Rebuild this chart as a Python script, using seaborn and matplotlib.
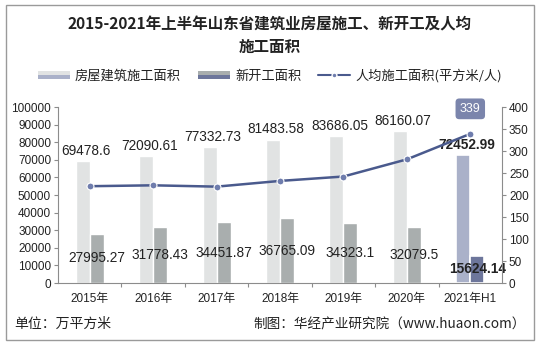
import matplotlib
matplotlib.use("Agg")
import matplotlib.pyplot as plt
import seaborn as sns
import pandas as pd
from matplotlib.patches import Rectangle
from matplotlib.lines import Line2D
from matplotlib.legend_handler import HandlerBase

sns.set_theme(style="white")
plt.rcParams['font.family'] = ['Liberation Sans', 'Noto Sans CJK SC', 'DejaVu Sans']

years = ["2015年", "2016年", "2017年", "2018年", "2019年", "2020年", "2021年H1"]
construction = [69478.6, 72090.61, 77332.73, 81483.58, 83686.05, 86160.07, 72452.99]
new_starts = [27995.27, 31778.43, 34451.87, 36765.09, 34323.1, 32079.5, 15624.14]
per_capita = [220, 222, 219, 232, 242, 281, 339]
series_names = ["房屋建筑施工面积", "新开工面积", "人均施工面积(平方米/人)"]

c_main = "#E1E3E3"
c_new = "#A9AEAE"
c_main_h = "#AAB1C9"
c_new_h = "#6D769B"
c_line = "#4A5A8D"
c_marker = "#6F7DAD"
txt = "#222222"
spine_c = "#8C8C8C"

df = pd.DataFrame({
    "year": years * 2,
    "value": construction + new_starts,
    "series": [series_names[0]] * len(years) + [series_names[1]] * len(years),
})

fig = plt.figure(figsize=(5.4, 3.45), dpi=100)
ax = fig.add_axes([58 / 540, 1 - 283 / 345, 444 / 540, 176 / 345])

sns.barplot(data=df, x="year", y="value", hue="series", palette=[c_main, c_new],
            width=0.44, gap=0, ax=ax, legend=False, saturation=1, errorbar=None)

# highlight 2021H1 bars
bars_main = ax.containers[0]
bars_new = ax.containers[1]
bars_main[-1].set_facecolor(c_main_h)
bars_new[-1].set_facecolor(c_new_h)
for b in (bars_main[-1], bars_new[-1]):
    b.set_edgecolor("white")
    b.set_linewidth(1.2)

ax.set_ylim(0, 100000)
ax.set_yticks(range(0, 100001, 10000))
ax.set_xlim(-0.5, len(years) - 0.5)
ax.set_xlabel("")
ax.set_ylabel("")
ax.tick_params(axis="y", labelsize=8.5, colors=txt, length=3, width=0.8, color=spine_c, left=True, pad=2)
ax.tick_params(axis="x", which="major", labelsize=8.5, colors=txt, length=0, pad=7)
ax.set_xticks([i + 0.5 for i in range(len(years) - 1)], minor=True)
ax.tick_params(axis="x", which="minor", length=3, width=0.8, color=spine_c, bottom=True)
for s in ["top", "right"]:
    ax.spines[s].set_visible(False)
for s in ["left", "bottom"]:
    ax.spines[s].set_color(spine_c)
    ax.spines[s].set_linewidth(0.8)

# data labels
lab_fs = 9.8
for i, (b, v) in enumerate(zip(bars_main, construction)):
    last = i == len(years) - 1
    x = b.get_x() + b.get_width() / 2 + 0.05
    ax.text(x, v + 1800, str(v), ha="center", va="bottom",
            fontsize=lab_fs, color=txt, fontweight="bold" if last else "normal", zorder=6)
for i, (b, v) in enumerate(zip(bars_new, new_starts)):
    last = i == len(years) - 1
    x = b.get_x() + b.get_width() / 2
    ax.text(x, v / 2, str(v), ha="center", va="center",
            fontsize=lab_fs, color=txt, fontweight="bold" if last else "normal", zorder=6)

# secondary axis line
ax2 = ax.twinx()
ax2.plot(range(len(years)), per_capita, color=c_line, lw=1.8, marker="o", markersize=5,
         markerfacecolor=c_marker, markeredgecolor="white", markeredgewidth=0.8, zorder=5)
ax2.set_ylim(0, 400)
ax2.set_yticks(range(0, 401, 50))
ax2.tick_params(axis="y", labelsize=8.5, colors=txt, length=3, width=0.8, color=spine_c, right=True, pad=2)
ax2.grid(False)
ax.grid(False)
for s in ["top", "left", "bottom"]:
    ax2.spines[s].set_visible(False)
ax2.spines["right"].set_color(spine_c)
ax2.spines["right"].set_linewidth(0.8)

ax2.annotate(f"{per_capita[-1]}", xy=(len(years) - 1, per_capita[-1]), xytext=(0, 18),
             textcoords="offset points", ha="center", va="center", fontsize=9, color="white",
             bbox=dict(boxstyle="round,pad=0.35,rounding_size=0.3", fc="#7B85AC", ec="none"))

# title
cjk = ["Noto Sans CJK SC", "DejaVu Sans"]
fig.text(0.5, 1 - 24 / 345, "2015-2021年上半年山东省建筑业房屋施工、新开工及人均", ha="center", va="center",
         fontsize=11.2, fontweight="bold", color=txt, family=cjk)
fig.text(0.5, 1 - 47 / 345, "施工面积", ha="center", va="center",
         fontsize=11.2, fontweight="bold", color=txt, family=cjk)


class TwoTone(HandlerBase):
    def __init__(self, top, bottom):
        super().__init__()
        self.top, self.bottom = top, bottom

    def create_artists(self, legend, orig_handle, xdescent, ydescent, width, height, fontsize, trans):
        h = height * 0.9
        y0 = -ydescent + (height - h) / 2
        r1 = Rectangle((-xdescent, y0 + h / 2), width, h / 2, fc=self.top, ec="none", transform=trans)
        r2 = Rectangle((-xdescent, y0), width, h / 2, fc=self.bottom, ec="none", transform=trans)
        return [r1, r2]


h1 = Rectangle((0, 0), 1, 1)
h2 = Rectangle((0, 0), 1, 1)
h3 = Line2D([], [], color=c_line, lw=1.5, marker="o", markersize=3.5,
            markerfacecolor=c_marker, markeredgecolor="white")
fig.legend([h1, h2, h3], series_names, loc="center", bbox_to_anchor=(0.5, 1 - 76 / 345), ncol=3,
           frameon=False, handlelength=2.4, handletextpad=0.4, columnspacing=1.3,
           handler_map={h1: TwoTone(c_main, c_main_h), h2: TwoTone(c_new, c_new_h)},
           prop={"family": cjk, "size": 9.5})
for t in fig.legends[0].get_texts():
    t.set_color(txt)

# footer
fig.text(14 / 540, 1 - 324 / 345, "单位：万平方米", ha="left", va="center", fontsize=10, color=txt,
         family=cjk)
fig.text(526 / 540, 1 - 324 / 345, "制图：华经产业研究院（www.huaon.com）", ha="right", va="center",
         fontsize=9.8, color=txt, family=cjk)

# outer border
fig.patches.append(Rectangle((6 / 540, 5 / 345), 528 / 540, 335 / 345, transform=fig.transFigure,
                             fill=False, ec="#9A9A9A", lw=1, zorder=0))

fig.savefig("out.png", dpi=100)
